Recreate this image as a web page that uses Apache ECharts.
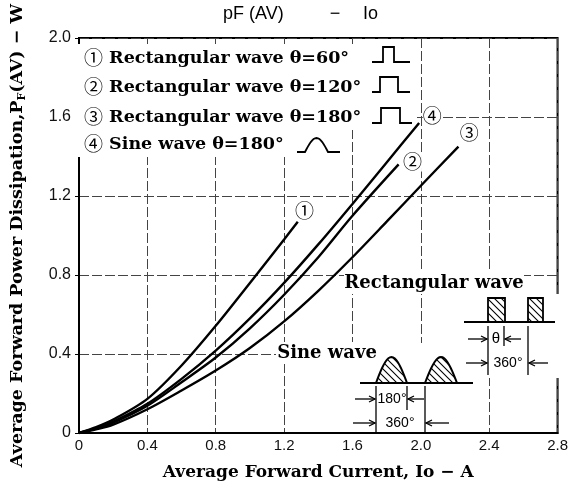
<!DOCTYPE html>
<html lang="en">
<head>
<meta charset="UTF-8">
<title>pF(AV) - Io</title>
<script src="https://cdn.jsdelivr.net/npm/echarts@6/dist/echarts.min.js"></script>
<style>
    html, body { margin: 0; padding: 0; background: #fff; }
    #main { width: 571px; height: 489px; }
</style>
</head>
<body>
<div id="main"></div>
<script>
// ① rectangular wave 60°
var io1 = [0, 0.1, 0.2, 0.4, 0.6, 0.8, 1.0, 1.2, 1.28];
var pf1 = [0, 0.03, 0.068, 0.173, 0.342, 0.543, 0.76, 0.98, 1.07];
// ② rectangular wave 120°
var io2 = [0, 0.1, 0.2, 0.4, 0.6, 0.8, 1.0, 1.2, 1.4, 1.6, 1.87];
var pf2 = [0, 0.022, 0.052, 0.138, 0.257, 0.382, 0.53, 0.7, 0.89, 1.1, 1.36];
// ③ rectangular wave 180°
var io3 = [0, 0.1, 0.2, 0.4, 0.6, 0.8, 1.0, 1.2, 1.4, 1.6, 1.8, 2.0, 2.22];
var pf3 = [0, 0.018, 0.042, 0.12, 0.215, 0.316, 0.43, 0.565, 0.72, 0.89, 1.07, 1.252, 1.45];
// ④ sine wave 180°
var io4 = [0, 0.1, 0.2, 0.4, 0.6, 0.8, 1.0, 1.2, 1.4, 1.6, 1.8, 1.99];
var pf4 = [0, 0.024, 0.058, 0.148, 0.274, 0.417, 0.58, 0.76, 0.955, 1.16, 1.37, 1.57];

var xTickLabels = ['0', '0.4', '0.8', '1.2', '1.6', '2.0', '2.4', '2.8'];
var yTickLabels = ['0', '0.4', '0.8', '1.2', '1.6', '2.0'];
var curveMarks = ['①', '②', '③', '④'];
var legendTexts = ['Rectangular wave θ=60°', 'Rectangular wave θ=120°', 'Rectangular wave θ=180°', 'Sine wave θ=180°'];

function pairs(xs, ys) {
    return xs.map(function (x, i) { return [x, ys[i]]; });
}

var serif = 'DejaVu Serif';
var sans = 'Liberation Sans';
var circ = 'Noto Sans CJK JP';

// hatch pattern for the small wave pictures
var hatch = document.createElement('canvas');
hatch.width = 7; hatch.height = 7;
var hc = hatch.getContext('2d');
hc.strokeStyle = '#000'; hc.lineWidth = 1.1;
hc.beginPath();
hc.moveTo(-1, -1); hc.lineTo(8, 8);
hc.moveTo(-1, 6); hc.lineTo(1, 8);
hc.moveTo(6, -1); hc.lineTo(8, 1);
hc.stroke();

var g = [];
function line(pts, w) {
    g.push({type: 'polyline', z: 3, shape: {points: pts}, style: {stroke: '#000', lineWidth: w || 1.5, fill: null}});
}
function arrow(x1, x2, y) {
    var d = x2 > x1 ? 1 : -1;
    line([[x1, y], [x2, y]], 1.3);
    line([[x2 - d * 6, y - 3], [x2, y], [x2 - d * 6, y + 3]], 1.3);
}
function txt(x, y, s, font, align) {
    g.push({type: 'text', z: 3, x: x, y: y, style: {text: s, font: font, fill: '#000', align: align || 'center', verticalAlign: 'middle'}});
}
function white(x, y, w, h) {
    g.push({type: 'rect', z: 1, shape: {x: x, y: y, width: w, height: h}, style: {fill: '#fff'}});
}
function sineHump(a, b, base, h) {
    var pts = [];
    for (var i = 0; i <= 20; i++) {
        var t = i / 20;
        pts.push([a + (b - a) * t, base - h * Math.sin(Math.PI * t)]);
    }
    g.push({type: 'polygon', z: 3, shape: {points: pts}, style: {fill: {image: hatch, repeat: 'repeat'}, stroke: '#000', lineWidth: 2}});
}
function pulse(a, b, base, top) {
    g.push({type: 'rect', z: 3, shape: {x: a, y: top, width: b - a, height: base - top}, style: {fill: {image: hatch, repeat: 'repeat'}, stroke: '#000', lineWidth: 1.8}});
}

// white areas that cut the grid lines
white(75, 44, 341, 86);
white(75, 130, 271, 27);
white(344, 272, 180, 22);
white(276, 342, 104, 22);
white(460, 294, 99, 84);
white(350, 343, 128, 89);

// title
txt(223, 14, 'pF (AV)', '18px ' + sans, 'left');
txt(335, 14, '−', '18px ' + sans);
txt(363, 14, 'Io', '18px ' + sans, 'left');

// legend
var legendY = [58, 87, 117, 144];
legendTexts.forEach(function (s, i) {
    g.push({type: 'text', z: 3, x: 84, y: legendY[i], style: {
        text: '{c|' + curveMarks[i] + '}{t| ' + s + '}',
        align: 'left', verticalAlign: 'middle',
        rich: {
            c: {fontFamily: circ, fontSize: 19, fill: '#000'},
            t: {fontFamily: serif, fontWeight: 'bold', fontSize: 17.5, fill: '#000'}
        }
    }});
});
line([[372, 62], [383, 62], [383, 47], [394, 47], [394, 62], [410, 62]], 1.8);
line([[372, 92], [380, 92], [380, 77], [398, 77], [398, 92], [410, 92]], 1.8);
line([[372, 123], [381, 123], [381, 108], [400, 108], [400, 123], [412, 123]], 1.8);
(function () {
    var pts = [[297, 152]];
    for (var i = 0; i <= 16; i++) {
        var t = i / 16;
        pts.push([305 + 23 * t, 152 - 14 * Math.sin(Math.PI * t)]);
    }
    pts.push([340, 152]);
    line(pts, 1.8);
})();

// inset: rectangular wave
txt(434, 283, 'Rectangular wave', 'bold 18px ' + serif);
line([[464, 322], [555, 322]], 2);
pulse(488, 505, 322, 298);
pulse(528, 543, 322, 298);
line([[488, 326], [488, 375]], 1.3);
line([[504, 326], [504, 346]], 1.3);
line([[528, 326], [528, 375]], 1.3);
arrow(468, 487, 339);
arrow(521, 505, 339);
arrow(466, 487, 363);
arrow(548, 529, 363);
txt(496, 339, 'θ', '15px ' + sans);
txt(508, 363, '360°', '14px ' + sans);

// inset: sine wave
txt(327, 353, 'Sine wave', 'bold 18px ' + serif);
line([[360, 383], [473, 383]], 2);
sineHump(376, 407, 383, 26);
sineHump(425, 457, 383, 26);
line([[376, 386], [376, 432]], 1.3);
line([[407, 386], [407, 410]], 1.3);
line([[425, 386], [425, 432]], 1.3);
arrow(355, 375, 399);
arrow(424, 408, 399);
arrow(353, 375, 423);
arrow(449, 426, 423);
txt(392, 399, '180°', '14px ' + sans);
txt(400, 423, '360°', '14px ' + sans);

var labelStyle = {
    show: true, position: 'inside', fontFamily: circ, fontSize: 19, color: '#000',
    backgroundColor: '#fff'
};
function curve(xs, ys, mark, at) {
    return {
        type: 'line', smooth: 0.3, showSymbol: false, z: 2,
        lineStyle: {color: '#000', width: 2.4},
        data: pairs(xs, ys),
        markPoint: {
            symbol: 'circle', symbolSize: 1, itemStyle: {color: 'rgba(0,0,0,0)'},
            label: Object.assign({formatter: mark}, labelStyle),
            data: [{coord: at}]
        }
    };
}

var myChart = echarts.init(document.getElementById('main'));
var option = {
    animation: false,
    backgroundColor: '#fff',
    grid: {left: 73, right: 10, top: 38, bottom: 56, show: true, borderColor: '#000', borderWidth: 2, backgroundColor: 'transparent'},
    xAxis: {
        type: 'value', min: 0, max: 2.8, interval: 0.4,
        name: 'Average Forward Current, Io − A',
        nameLocation: 'middle', nameGap: 31,
        nameTextStyle: {fontFamily: serif, fontWeight: 'bold', fontSize: 17, color: '#000'},
        axisLine: {show: true, lineStyle: {color: '#000', width: 2}},
        axisTick: {show: false},
        axisLabel: {
            margin: 5, fontFamily: sans, fontSize: 15, color: '#111',
            formatter: function (v) { return xTickLabels[Math.round(v / 0.4)]; }
        },
        splitLine: {show: true, lineStyle: {color: '#444', width: 1, type: [10, 3]}}
    },
    yAxis: {
        type: 'value', min: 0, max: 2.0, interval: 0.4,
        name: '{t|Average Forward Power Dissipation,P}{s|F}{t|(AV) − W}',
        nameLocation: 'middle', nameGap: 51,
        nameTextStyle: {
            rich: {
                t: {fontFamily: serif, fontWeight: 'bold', fontSize: 17.5, color: '#000', lineHeight: 22},
                s: {fontFamily: serif, fontWeight: 'bold', fontSize: 11, color: '#000', verticalAlign: 'bottom', lineHeight: 22}
            }
        },
        axisLine: {show: true, lineStyle: {color: '#000', width: 2}},
        axisTick: {show: true, length: 4, lineStyle: {color: '#000'}},
        axisLabel: {
            margin: 8, fontFamily: sans, fontSize: 16, color: '#111',
            formatter: function (v) { return yTickLabels[Math.round(v / 0.4)]; }
        },
        splitLine: {show: true, lineStyle: {color: '#444', width: 1, type: [10, 3]}}
    },
    graphic: {elements: g},
    series: [
        curve(io1, pf1, curveMarks[0], [1.32, 1.124]),
        curve(io2, pf2, curveMarks[1], [1.951, 1.372]),
        curve(io3, pf3, curveMarks[2], [2.283, 1.519]),
        curve(io4, pf4, curveMarks[3], [2.067, 1.605])
    ]
};
myChart.setOption(option);
</script>
</body>
</html>
